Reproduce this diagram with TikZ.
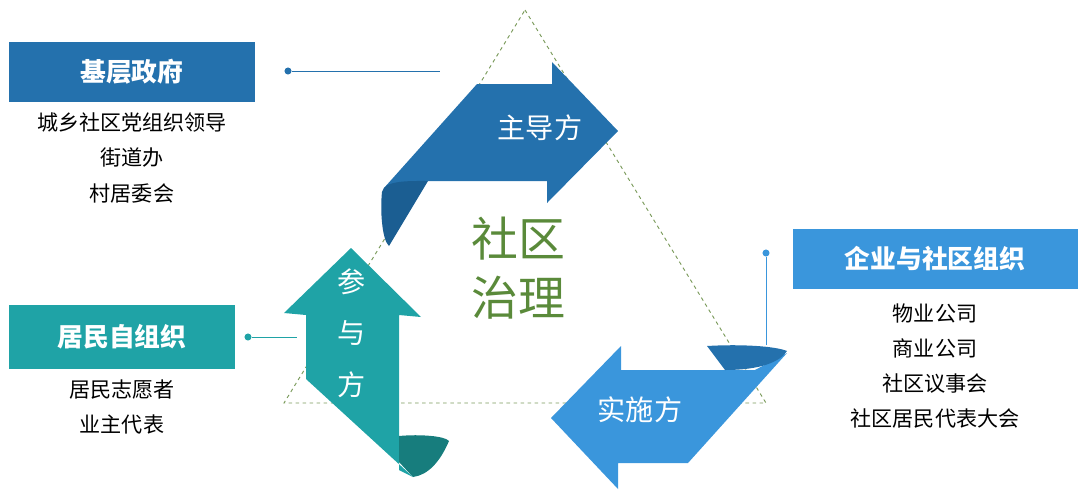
\documentclass[tikz,border=0pt]{standalone}
\usepackage{fontspec}
\setmainfont{Noto Sans CJK SC}
\usetikzlibrary{positioning}
\definecolor{govblue}{HTML}{2471AD}
\definecolor{govdark}{HTML}{1B5E92}
\definecolor{resteal}{HTML}{1FA3A6}
\definecolor{tealdark}{HTML}{177D7D}
\definecolor{entblue}{HTML}{3A96DC}
\definecolor{centgreen}{HTML}{5A8A3A}
\definecolor{dashgreen}{HTML}{7A9A5A}
\tikzset{
  titlebox/.style={minimum height=1.8cm, text=white, font=\fontsize{22}{26}\selectfont\bfseries, inner sep=0pt},
  listtext/.style={font=\fontsize{18}{30}\selectfont, align=center},
  arrowlabel/.style={text=white, font=\fontsize{24}{28}\selectfont},
  leader/.style={thick},
  dot/.style={circle, inner sep=0pt, minimum size=6pt}
}
\begin{document}
\begin{tikzpicture}[x=0.03cm,y=-0.03cm]
      \useasboundingbox (0,0) rectangle (1080,493);
      %% dashed triangle
      \draw[dashgreen, dashed, thick] (525,10) -- (766,403) -- (284,403) -- cycle;
      %% top arrow
      \fill[govblue] (477,84) -- (552,84) -- (552,62) -- (618,131) -- (547,203) -- (547,181) -- (428,181) -- (384,188) -- cycle;
      \fill[govdark] (382,192) .. controls (384,180) and (410,181) .. (428,181) -- (389,246) .. controls (382,240) and (380,210) .. cycle;
      %% left arrow
      \fill[resteal] (306,315) -- (284,313) -- (351,248) -- (421,317) -- (399,315) -- (399,470) -- (413,477) -- (306,379) -- cycle;
      \fill[tealdark] (399,436) .. controls (420,434) and (445,436) .. (449,441) .. controls (440,462) and (428,475) .. (413,477) -- (399,462) -- cycle;
      %% bottom right arrow
      \fill[entblue] (621,370) -- (755,370) -- (787,353) -- (688,463) -- (618,463) -- (618,489) -- (551,418) -- (621,346) -- cycle;
      \fill[govblue] (707,346) .. controls (740,344) and (775,346) .. (787,351) .. controls (780,362) and (760,370) .. (725,370) -- cycle;
      %% labels on arrows
      \node[arrowlabel] (lead) at (540,128) {主导方};
      \node[arrowlabel, align=center, font=\fontsize{24}{44}\selectfont] (part) at (352,333) {参\\与\\方};
      \node[arrowlabel] (impl) at (640,410) {实施方};
      \node[centgreen, font=\fontsize{40}{50}\selectfont, align=center] (core) at (518,268) {社区\\治理};
      %% government
      \node[titlebox, fill=govblue, minimum width=7.35cm] (gov) at (132,72) {基层政府};
      \node[listtext, below=0.2cm of gov] (govlist) {城乡社区党组织领导\\街道办\\村居委会};
      \node[dot, fill=govblue] (govdot) at (288,71) {};
      \coordinate (govend) at (440,71);
      \draw[govblue, leader] (govdot) -- (govend);
      %% residents
      \node[titlebox, fill=resteal, minimum width=6.75cm, minimum height=1.9cm] (res) at (122,337) {居民自组织};
      \node[listtext, below=0.2cm of res] (reslist) {居民志愿者\\业主代表};
      \node[dot, fill=resteal] (resdot) at (248,337) {};
      \coordinate (resend) at (297,337);
      \draw[resteal, leader] (resdot) -- (resend);
      %% enterprises
      \node[titlebox, fill=entblue, minimum width=8.55cm] (ent) at (935,259) {企业与社区组织};
      \node[listtext, below=0.3cm of ent] (entlist) {物业公司\\商业公司\\社区议事会\\社区居民代表大会};
      \node[dot, fill=entblue] (entdot) at (766,253) {};
      \coordinate (entend) at (766,345);
      \draw[entblue, leader] (entdot) -- (entend);
\end{tikzpicture}
\end{document}
